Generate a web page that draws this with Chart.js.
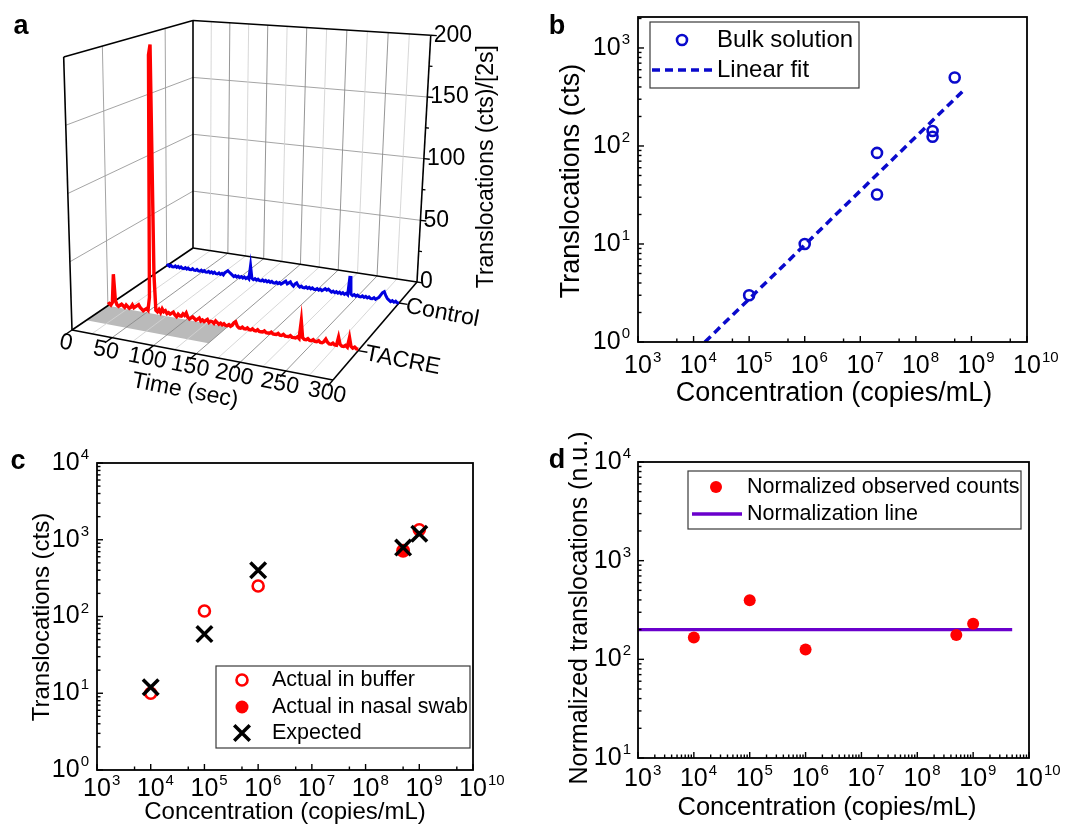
<!DOCTYPE html>
<html>
<head>
<meta charset="utf-8">
<script src="https://cdn.jsdelivr.net/npm/chart.js"></script>
<style>
  html, body { margin: 0; padding: 0; background: #fff; }
  #fig { position: relative; width: 1072px; height: 824px; }
  canvas { position: absolute; }
</style>
</head>
<body>
<div id="fig">
  <canvas id="panelA" width="530" height="410" style="left:0;top:0"></canvas>
  <canvas id="panelB" width="542" height="410" style="left:530px;top:0"></canvas>
  <canvas id="panelC" width="530" height="414" style="left:0;top:410px"></canvas>
  <canvas id="panelD" width="542" height="414" style="left:530px;top:410px"></canvas>
</div>
<script>
const FONT = "'Liberation Sans', Arial, Helvetica, sans-serif";
Chart.defaults.font.family = FONT;

// ---------- panel a : translocation traces, counts per 2 s bin ----------
const TIME_STEP = 2;
const TACRE_COUNTS = [
  1, 2, 1, 3, 25, 5, 2, 1, 2, 3,
  2, 1, 3, 2, 1, 2, 4, 2, 3, 4,
  5, 3, 2, 1, 2, 3, 2, 12, 196, 204,
  30, 3, 2, 4, 2, 5, 3, 4, 2, 3,
  2, 3, 4, 2, 1, 3, 2, 2, 4, 3,
  5, 2, 1, 2, 3, 2, 1, 2, 3, 1,
  2, 1, 2, 3, 1, 2, 2, 1, 3, 2,
  1, 2, 1, 2, 1, 1, 2, 1, 2, 4,
  5, 2, 1, 1, 2, 1, 1, 2, 1, 1,
  2, 1, 1, 2, 1, 1, 1, 2, 1, 1,
  1, 2, 1, 1, 1, 2, 1, 1, 2, 1,
  1, 1, 2, 1, 1, 1, 2, 1, 14, 2,
  1, 1, 2, 1, 1, 2, 1, 1, 2, 1,
  1, 2, 4, 2, 1, 1, 2, 1, 1, 7,
  2, 1, 1, 2, 1, 8, 2, 1, 2, 1,
  1
];
const CONTROL_COUNTS = [
  0, 1, 0, 1, 0, 0, 1, 0, 1, 0,
  1, 0, 0, 1, 0, 1, 0, 0, 1, 0,
  0, 1, 0, 0, 1, 0, 1, 0, 0, 1,
  0, 1, 0, 1, 0, 0, 1, 0, 1, 0,
  2, 3, 4, 3, 2, 1, 0, 1, 0, 1,
  0, 1, 0, 1, 0, 1, 0, 11, 1, 0,
  1, 0, 1, 0, 0, 1, 0, 1, 0, 1,
  0, 1, 0, 0, 1, 0, 1, 0, 1, 2,
  3, 1, 2, 3, 1, 0, 2, 3, 1, 0,
  1, 0, 0, 1, 0, 1, 0, 1, 0, 0,
  1, 0, 1, 0, 1, 2, 1, 2, 1, 0,
  1, 0, 1, 0, 1, 0, 1, 0, 1, 0,
  15, 1, 0, 1, 0, 1, 0, 0, 1, 0,
  1, 0, 1, 0, 0, 1, 0, 1, 2, 4,
  6, 7, 4, 2, 1, 0, 1, 0, 1, 0,
  0
];
const TIME_TICKS = [0, 50, 100, 150, 200, 250, 300];
const COUNT_TICKS = [0, 50, 100, 150, 200];
const ROW_NAMES = ['TACRE', 'Control'];

// ---------- panel b : bulk solution ----------
const BULK_CONC = [1e5, 1e6, 2e7, 2e7, 2e8, 2e8, 5e8];
const BULK_CTS = [3, 10, 85, 32, 142, 124, 500];
const FIT_CONC = [1.6e4, 7.6e8];
const FIT_CTS = [1, 380];

// ---------- panel c : buffer / nasal swab vs expected ----------
const BUFFER_CONC = [1e4, 1e5, 1e6, 1e9];
const BUFFER_CTS = [10, 118, 250, 1350];
const SWAB_CONC = [5e8];
const SWAB_CTS = [720];
const EXPECTED_CONC = [1e4, 1e5, 1e6, 5e8, 1e9];
const EXPECTED_CTS = [12, 59, 400, 790, 1200];

// ---------- panel d : normalized ----------
const NORM_CONC = [1e4, 1e5, 1e6, 5e8, 1e9];
const NORM_CTS = [166, 396, 126, 176, 230];
const NORM_LINE_CONC = [1e3, 5e9];
const NORM_LINE_CTS = [200, 200];

const pts = (xs, ys) => xs.map((x, i) => ({x: x, y: ys[i]}));

// ---------- 3D box projection for panel a ----------
const T_MAX = 300, Z_MAX = 200;
const ROW_DEPTH = [0.26, 0.75];
const FLOOR = [[72, 330], [333, 380], [417, 282], [193, 248]];
const WALL_H = 273;
const VANISH = [193, 4300];

const [[x0, y0], [x1, y1], [x2, y2], [x3, y3]] = FLOOR;
const dx1 = x1 - x2, dx2 = x3 - x2, dx3 = x0 - x1 + x2 - x3;
const dy1 = y1 - y2, dy2 = y3 - y2, dy3 = y0 - y1 + y2 - y3;
const den = dx1 * dy2 - dx2 * dy1;
const hg = (dx3 * dy2 - dx2 * dy3) / den, hh = (dx1 * dy3 - dx3 * dy1) / den;
const ha = x1 - x0 + hg * x1, hb = x3 - x0 + hh * x3;
const hd = y1 - y0 + hg * y1, he = y3 - y0 + hh * y3;

function proj(t, v, z) {
  const u = t / T_MAX, w = z / Z_MAX;
  const D = hg * u + hh * v + 1;
  const fx = (ha * u + hb * v + x0) / D, fy = (hd * u + he * v + y0) / D;
  const hgt = WALL_H * w / D;
  const s = hgt / (VANISH[1] - fy);
  return {x: fx + s * (fx - VANISH[0]), y: fy - hgt};
}

function seg(a, b, color, width, order) {
  return {data: [a, b], showLine: true, borderColor: color, borderWidth: width,
          pointRadius: 0, fill: false, order: order, tension: 0};
}

const aSets = [];
// grid
for (let t = 25; t < T_MAX; t += 25) {
  const c = t % 50 === 0 ? '#8a8a8a' : '#d2d2d2';
  aSets.push(seg(proj(t, 1, 0), proj(t, 1, Z_MAX), c, 0.9, 5));
  aSets.push(seg(proj(t, 0, 0), proj(t, 1, 0), c, 0.9, 5));
}
for (const z of [50, 100, 150]) {
  aSets.push(seg(proj(0, 1, z), proj(T_MAX, 1, z), '#9a9a9a', 0.9, 5));
  aSets.push(seg(proj(0, 0, z), proj(0, 1, z), '#9a9a9a', 0.9, 5));
}
for (const v of ROW_DEPTH) aSets.push(seg(proj(0, v, 0), proj(0, v, Z_MAX), '#9a9a9a', 0.9, 5));
// shaded floor patch
aSets.push({data: [proj(0, 0.1, 0), proj(150, 0.1, 0), proj(150, 0.26, 0), proj(0, 0.26, 0), proj(0, 0.1, 0)],
  showLine: true, borderWidth: 0, borderColor: 'rgba(0,0,0,0)', backgroundColor: '#bababa',
  fill: 'shape', pointRadius: 0, order: 6, tension: 0});
// box edges
const K = '#000';
[[[0,0,0],[T_MAX,0,0]], [[T_MAX,0,0],[T_MAX,1,0]], [[0,1,0],[T_MAX,1,0]], [[0,0,0],[0,1,0]],
 [[0,0,0],[0,0,Z_MAX]], [[0,1,0],[0,1,Z_MAX]], [[T_MAX,1,0],[T_MAX,1,Z_MAX]],
 [[0,0,Z_MAX],[0,1,Z_MAX]], [[0,1,Z_MAX],[T_MAX,1,Z_MAX]]].forEach(([p, q]) => {
  aSets.push(seg(proj(...p), proj(...q), K, 1.6, 3));
});
// ticks
for (const t of TIME_TICKS) aSets.push(seg(proj(t, 0, 0), proj(t, -0.05, 0), K, 1.4, 3));
for (let z = 0; z <= Z_MAX; z += 25) {
  aSets.push(seg(proj(T_MAX, 1, z), proj(T_MAX + (z % 50 === 0 ? 7 : 4), 1, z), K, 1.4, 3));
}
for (const v of ROW_DEPTH) aSets.push(seg(proj(T_MAX, v, 0), proj(T_MAX + 10, v, 0), K, 1.4, 3));
// traces
aSets.push({data: CONTROL_COUNTS.map((c, i) => proj(i * TIME_STEP, ROW_DEPTH[1], c)), showLine: true,
  borderColor: '#0000e0', borderWidth: 3, pointRadius: 0, fill: false, order: 1, tension: 0});
aSets.push({data: TACRE_COUNTS.map((c, i) => proj(i * TIME_STEP, ROW_DEPTH[0], c)), showLine: true,
  borderColor: '#ff0000', borderWidth: 3.4, pointRadius: 0, fill: false, order: 0, tension: 0});

function rotText(ctx, text, x, y, ang) {
  ctx.save(); ctx.translate(x, y); ctx.rotate(ang); ctx.fillText(text, 0, 0); ctx.restore();
}

new Chart(document.getElementById('panelA'), {
  type: 'scatter',
  data: {datasets: aSets},
  options: {
    responsive: false, animation: false, devicePixelRatio: 1, events: [],
    layout: {padding: 0},
    plugins: {legend: {display: false}, tooltip: {enabled: false}},
    scales: {
      x: {type: 'linear', min: 0, max: 530, display: false},
      y: {type: 'linear', min: 0, max: 410, reverse: true, display: false}
    }
  },
  plugins: [{
    id: 'box3dLabels',
    afterDatasetsDraw(chart) {
      const ctx = chart.ctx, sx = chart.scales.x, sy = chart.scales.y;
      const P = (t, v, z) => { const p = proj(t, v, z); return [sx.getPixelForValue(p.x), sy.getPixelForValue(p.y)]; };
      ctx.save();
      ctx.fillStyle = '#000';
      ctx.textBaseline = 'middle';
      const e0 = P(0, 0, 0), e1 = P(T_MAX, 0, 0);
      const ang = Math.atan2(e1[1] - e0[1], e1[0] - e0[0]);
      ctx.font = `23px ${FONT}`;
      ctx.textAlign = 'center';
      for (const t of TIME_TICKS) {
        const [px, py] = P(t, 0, 0);
        rotText(ctx, String(t), px - 6, py + 13, ang);
      }
      const mid = P(T_MAX / 2, 0, 0);
      rotText(ctx, 'Time (sec)', mid[0] - 11, mid[1] + 37, ang);
      ctx.textAlign = 'left';
      for (const z of COUNT_TICKS) {
        const [px, py] = P(T_MAX, 1, z);
        ctx.fillText(String(z), px + 3, py);
      }
      ROW_NAMES.forEach((name, i) => {
        const [px, py] = P(T_MAX, ROW_DEPTH[i], 0);
        rotText(ctx, name, px + 7, py + 3, ang);
      });
      const zb = P(T_MAX, 1, 0), zt = P(T_MAX, 1, Z_MAX);
      ctx.textAlign = 'center';
      rotText(ctx, 'Translocations (cts)/[2s]', (zb[0] + zt[0]) / 2 + 63, (zb[1] + zt[1]) / 2 + 8, -Math.PI / 2);
      ctx.font = `bold 27px ${FONT}`;
      ctx.fillText('a', 21, 27);
      ctx.restore();
    }
  }]
});

// ---------- log panels ----------
function drawPow(ctx, exp, x, y, mode, supDy) {
  const base = '10', sup = String(exp);
  ctx.font = `25px ${FONT}`;
  const wb = ctx.measureText(base).width;
  ctx.font = `15px ${FONT}`;
  const ws = ctx.measureText(sup).width;
  const bx = mode === 'x' ? x - wb / 2 : x - ws - 1 - wb;
  ctx.textAlign = 'left';
  ctx.textBaseline = 'middle';
  ctx.font = `25px ${FONT}`;
  ctx.fillText(base, bx, y);
  ctx.font = `15px ${FONT}`;
  ctx.fillText(sup, bx + wb + 1, y - supDy);
}

function legendMarker(ctx, m, x, y) {
  ctx.save();
  ctx.strokeStyle = m.color;
  ctx.fillStyle = m.filled ? m.color : 'rgba(0,0,0,0)';
  ctx.lineWidth = m.width;
  Chart.helpers.drawPoint(ctx, {pointStyle: m.style, radius: m.radius, rotation: 0, borderWidth: m.width}, x, y);
  ctx.restore();
}

function drawFrame(chart, cfg) {
  const ctx = chart.ctx, a = chart.chartArea, sx = chart.scales.x, sy = chart.scales.y;
  ctx.save();
  ctx.strokeStyle = '#000';
  ctx.fillStyle = '#000';
  ctx.lineWidth = 1.8;
  ctx.strokeRect(a.left, a.top, a.right - a.left, a.bottom - a.top);
  ctx.lineWidth = 1.4;
  const tick = (px0, py0, px1, py1) => { ctx.beginPath(); ctx.moveTo(px0, py0); ctx.lineTo(px1, py1); ctx.stroke(); };
  const lx0 = Math.round(Math.log10(cfg.x[0])), lx1 = Math.round(Math.log10(cfg.x[1]));
  for (let e = lx0; e <= lx1; e++) {
    const px = sx.getPixelForValue(Math.pow(10, e));
    tick(px, a.bottom, px, a.bottom - 6);
    drawPow(ctx, e, px, a.bottom + cfg.xLabelDy, 'x', 8);
    if (e < lx1) for (const m of cfg.xMinor) {
      const q = sx.getPixelForValue(m * Math.pow(10, e));
      tick(q, a.bottom, q, a.bottom - 3.5);
    }
  }
  const ly0 = Math.floor(Math.log10(cfg.y[0]) + 1e-9), ly1 = Math.floor(Math.log10(cfg.y[1]) + 1e-9);
  for (let e = ly0; e <= ly1; e++) {
    const v = Math.pow(10, e);
    const py = sy.getPixelForValue(v);
    tick(a.left, py, a.left + 6, py);
    drawPow(ctx, e, a.left - cfg.yLabelGap, py, 'y', 8);
    for (const m of cfg.yMinor) {
      const val = m * v;
      if (val < cfg.y[1]) { const q = sy.getPixelForValue(val); tick(a.left, q, a.left + 3.5, q); }
    }
  }
  // titles
  ctx.textAlign = 'center';
  ctx.textBaseline = 'middle';
  ctx.font = `${cfg.xTitle.size}px ${FONT}`;
  ctx.fillText(cfg.xTitle.text, cfg.xTitle.x, cfg.xTitle.y);
  ctx.font = `${cfg.yTitle.size}px ${FONT}`;
  rotText(ctx, cfg.yTitle.text, cfg.yTitle.x, cfg.yTitle.y, -Math.PI / 2);
  // legend
  const L = cfg.legend;
  ctx.strokeStyle = '#3a3a3a';
  ctx.lineWidth = 1.2;
  ctx.strokeRect(L.box[0], L.box[1], L.box[2] - L.box[0], L.box[3] - L.box[1]);
  ctx.font = `${L.size}px ${FONT}`;
  ctx.textAlign = 'left';
  for (const r of L.rows) {
    if (r.marker) legendMarker(ctx, r.marker, r.mx, r.y);
    if (r.line) {
      ctx.save();
      ctx.strokeStyle = r.line.color;
      ctx.lineWidth = r.line.width;
      ctx.setLineDash(r.line.dash || []);
      tick(r.line.from, r.y, r.line.to, r.y);
      ctx.restore();
    }
    ctx.fillStyle = '#000';
    ctx.fillText(r.text, L.textX, r.y);
  }
  ctx.font = `bold 27px ${FONT}`;
  ctx.textAlign = 'center';
  ctx.fillText(cfg.letter.text, cfg.letter.x, cfg.letter.y);
  ctx.restore();
}

function logPanel(id, cfg) {
  return new Chart(document.getElementById(id), {
    type: 'scatter',
    data: {datasets: cfg.datasets},
    options: {
      responsive: false, animation: false, devicePixelRatio: 1, events: [],
      layout: {padding: cfg.padding},
      plugins: {legend: {display: false}, tooltip: {enabled: false}},
      scales: {
        x: {type: 'logarithmic', min: cfg.x[0], max: cfg.x[1], display: false},
        y: {type: 'logarithmic', min: cfg.y[0], max: cfg.y[1], display: false}
      }
    },
    plugins: [{id: 'frame', afterDatasetsDraw(chart) { drawFrame(chart, cfg); }}]
  });
}

const ALL_MINOR = [2, 3, 4, 5, 6, 7, 8, 9];
const BLUE = '#0a0acc', RED = '#ff0000', PURPLE = '#6a00cc';

logPanel('panelB', {
  padding: {left: 108, right: 45, top: 17, bottom: 68},
  x: [1e3, 1e10], y: [1, 2070],
  xMinor: [5], yMinor: ALL_MINOR, xLabelDy: 24, yLabelGap: 8,
  xTitle: {text: 'Concentration (copies/mL)', x: 304, y: 394, size: 27},
  yTitle: {text: 'Translocations (cts)', x: 42, y: 181, size: 27},
  letter: {text: 'b', x: 27, y: 27},
  legend: {box: [120, 22, 329, 88], size: 24, textX: 187, rows: [
    {y: 40, text: 'Bulk solution', mx: 152, marker: {style: 'circle', radius: 5, width: 2.6, color: BLUE}},
    {y: 70, text: 'Linear fit', line: {from: 122, to: 182, color: BLUE, width: 3.5, dash: [8, 5]}}
  ]},
  datasets: [
    {data: pts(BULK_CONC, BULK_CTS), pointStyle: 'circle', pointRadius: 5, pointBorderWidth: 2.6,
     borderColor: BLUE, backgroundColor: 'rgba(0,0,0,0)', order: 0},
    {data: pts(FIT_CONC, FIT_CTS), showLine: true, pointRadius: 0, borderColor: BLUE, borderWidth: 3.5,
     borderDash: [8, 5], order: 1}
  ]
});

logPanel('panelC', {
  padding: {left: 97, right: 57, top: 53, bottom: 54},
  x: [1e3, 1e10], y: [1, 1e4],
  xMinor: [5], yMinor: ALL_MINOR, xLabelDy: 19, yLabelGap: 8,
  xTitle: {text: 'Concentration (copies/mL)', x: 285, y: 402, size: 24},
  yTitle: {text: 'Translocations (cts)', x: 42, y: 207, size: 24},
  letter: {text: 'c', x: 18, y: 52},
  legend: {box: [216, 256, 470, 338], size: 21.5, textX: 272, rows: [
    {y: 270, text: 'Actual in buffer', mx: 242, marker: {style: 'circle', radius: 5.5, width: 2.6, color: RED}},
    {y: 297, text: 'Actual in nasal swab', mx: 242, marker: {style: 'circle', radius: 6.5, width: 0, color: RED, filled: true}},
    {y: 323, text: 'Expected', mx: 242, marker: {style: 'crossRot', radius: 11, width: 3.5, color: '#000'}}
  ]},
  datasets: [
    {data: pts(EXPECTED_CONC, EXPECTED_CTS), pointStyle: 'crossRot', pointRadius: 11, pointBorderWidth: 3.5,
     borderColor: '#000', order: 0},
    {data: pts(SWAB_CONC, SWAB_CTS), pointStyle: 'circle', pointRadius: 7, pointBorderWidth: 0,
     borderColor: RED, backgroundColor: RED, order: 1},
    {data: pts(BUFFER_CONC, BUFFER_CTS), pointStyle: 'circle', pointRadius: 5.5, pointBorderWidth: 2.6,
     borderColor: RED, backgroundColor: 'rgba(0,0,0,0)', order: 2}
  ]
});

logPanel('panelD', {
  padding: {left: 108, right: 43, top: 52, bottom: 66},
  x: [1e3, 1e10], y: [10, 1e4],
  xMinor: ALL_MINOR, yMinor: ALL_MINOR, xLabelDy: 21, yLabelGap: 7,
  xTitle: {text: 'Concentration (copies/mL)', x: 297, y: 398, size: 25.5},
  yTitle: {text: 'Normalized translocations (n.u.)', x: 50, y: 198, size: 25},
  letter: {text: 'd', x: 27, y: 51},
  legend: {box: [158, 61, 491, 119], size: 21.5, textX: 217, rows: [
    {y: 77, text: 'Normalized observed counts', mx: 186, marker: {style: 'circle', radius: 6, width: 0, color: RED, filled: true}},
    {y: 104, text: 'Normalization line', line: {from: 162, to: 212, color: PURPLE, width: 3.3}}
  ]},
  datasets: [
    {data: pts(NORM_CONC, NORM_CTS), pointStyle: 'circle', pointRadius: 6, pointBorderWidth: 0,
     borderColor: RED, backgroundColor: RED, order: 0},
    {data: pts(NORM_LINE_CONC, NORM_LINE_CTS), showLine: true, pointRadius: 0, borderColor: PURPLE,
     borderWidth: 3.3, order: 1}
  ]
});
</script>
</body>
</html>
